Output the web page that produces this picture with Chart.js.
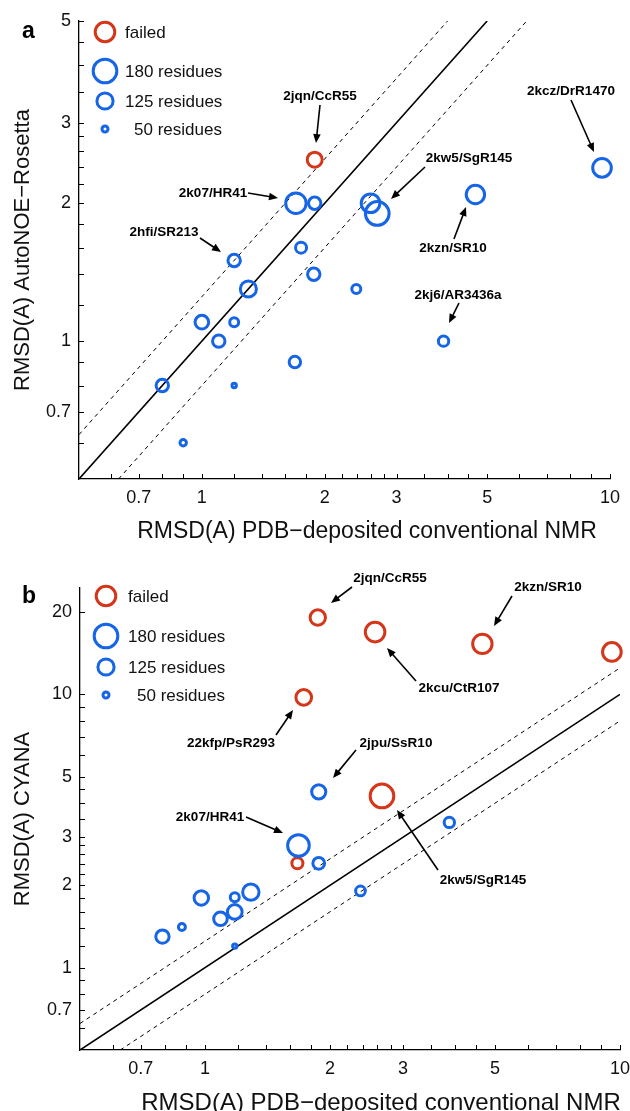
<!DOCTYPE html>
<html>
<head>
<meta charset="utf-8">
<script src="https://cdn.jsdelivr.net/npm/chart.js@4.4.1/dist/chart.umd.min.js"></script>
<style>
  html, body { margin: 0; padding: 0; background: #fff; }
  #wrap { position: relative; width: 630px; height: 1111px; overflow: hidden; }
  canvas { position: absolute; left: 0; }
</style>
</head>
<body>
<div id="wrap">
  <canvas id="chartA" width="630" height="555" style="top:0"></canvas>
  <canvas id="chartB" width="630" height="556" style="top:555px"></canvas>
</div>
<script>
// panel a: AutoNOE-Rosetta vs PDB-deposited RMSD
const aX      = [1.89, 1.70, 1.89, 1.75, 1.20, 1.30, 1.88, 2.39, 1.00, 1.20, 1.10, 3.91, 1.69, 0.80, 1.20, 0.90, 2.59, 2.69, 4.68, 9.56];
const aY      = [2.49, 2.00, 2.00, 1.60, 1.50, 1.30, 1.40, 1.30, 1.10, 1.10, 1.00, 1.00, 0.90, 0.80, 0.80, 0.60, 2.00, 1.90, 2.09, 2.39];
const aRes    = [116, 156, 97, 87, 97, 124, 97, 72, 106, 72, 97, 82, 90, 97, 38, 53, 143, 180, 141, 143];
const aFailed = [1, 0, 0, 0, 0, 0, 0, 0, 0, 0, 0, 0, 0, 0, 0, 0, 0, 0, 0, 0];

// panel b: CYANA vs PDB-deposited RMSD
const bX      = [1.87, 2.57, 4.66, 9.56, 1.73, 2.67, 1.88, 3.88, 1.68, 1.67, 1.88, 2.37, 1.29, 1.18, 0.98, 1.18, 1.09, 0.88, 0.79, 1.18];
const bY      = [19.1, 16.9, 15.3, 14.3, 9.75, 4.25, 4.40, 3.40, 2.80, 2.41, 2.41, 1.91, 1.89, 1.81, 1.80, 1.60, 1.51, 1.41, 1.30, 1.20];
const bRes    = [119, 150, 148, 143, 121, 180, 110, 82, 165, 87, 92, 77, 126, 72, 112, 114, 106, 57, 104, 38];
const bFailed = [1, 1, 1, 1, 1, 1, 0, 0, 0, 1, 0, 0, 0, 0, 0, 0, 0, 0, 0, 0];

// reference lines (identity and +/-25%)
const aSolid = [{x: 0.5, y: 0.5}, {x: 5, y: 5}];
const aUpper = [{x: 0.5, y: 0.625}, {x: 4, y: 5}];
const aLower = [{x: 0.625, y: 0.5}, {x: 6.25, y: 5}];
const bSolid = [{x: 0.5, y: 0.5}, {x: 10, y: 10}];
const bUpper = [{x: 0.5, y: 0.625}, {x: 10, y: 12.5}];
const bLower = [{x: 0.625, y: 0.5}, {x: 10, y: 8}];

// ticks
const xTicks  = [0.6, 0.7, 0.8, 0.9, 1, 1.2, 1.4, 1.6, 1.8, 2, 2.2, 2.4, 2.6, 2.8, 3, 3.5, 4, 4.5, 5, 6, 7, 8, 9, 10];
const xLabels = [0.7, 1, 2, 3, 5, 10];
const aYTicks  = [0.6, 0.7, 0.8, 0.9, 1, 1.2, 1.4, 1.6, 1.8, 2, 2.2, 2.4, 2.6, 2.8, 3, 3.5, 4, 4.5, 5];
const aYLabels = [0.7, 1, 2, 3, 5];
const bYTicks  = [0.6, 0.7, 0.8, 0.9, 1, 1.2, 1.4, 1.6, 1.8, 2, 2.2, 2.4, 2.6, 2.8, 3, 3.5, 4, 4.5, 5, 6, 7, 8, 9, 10, 20];
const bYLabels = [0.7, 1, 2, 3, 5, 10, 20];

// legend sizes (residues)
const legendItems = [
  { label: 'failed', res: 150, failed: true },
  { label: '180 residues', res: 180 },
  { label: '125 residues', res: 125 },
  { label: '50 residues', res: 50 }
];

const FONT = '"Liberation Sans", Arial, Helvetica, sans-serif';
const BLUE = '#1565e6';
const RED = '#d4361a';
const RING = 3;

function ringRadius(res) { return res * 0.068 + 1.1 - RING / 2; }

function pick(xs, ys, res, failed, want) {
  const out = [];
  xs.forEach((x, i) => { if (failed[i] === want) out.push({ x: x, y: ys[i], res: res[i] }); });
  return out;
}

function ringSet(data, color) {
  return {
    type: 'scatter',
    data: data,
    clip: false,
    borderColor: color,
    backgroundColor: 'rgba(0,0,0,0)',
    pointBorderWidth: RING,
    pointHoverBorderWidth: RING,
    pointRadius: c => ringRadius(c.raw.res),
    pointHoverRadius: c => ringRadius(c.raw.res)
  };
}

function lineSet(data, width, dash) {
  return {
    type: 'line',
    data: data,
    borderColor: '#000',
    borderWidth: width,
    borderDash: dash,
    pointRadius: 0,
    fill: false,
    tension: 0
  };
}

function logAxis(min, max, ticks, labels, isY, size) {
  return {
    type: 'logarithmic',
    position: isY ? 'left' : 'bottom',
    min: min,
    max: max,
    grid: { display: false, drawTicks: false },
    border: { display: true, color: '#000', width: 1.3 },
    ticks: {
      autoSkip: false,
      maxRotation: 0,
      color: '#111',
      padding: 8,
      font: { family: FONT, size: 18 },
      callback: v => labels.includes(v) ? String(v) : ''
    },
    afterBuildTicks: s => { s.ticks = ticks.map(v => ({ value: v })); },
    afterFit: s => {
      if (isY) s.width = size; else s.height = size;
      // let layout.padding alone decide the plot area
      s.paddingLeft = s.paddingRight = s.paddingTop = s.paddingBottom = 0;
    }
  };
}

function drawArrow(ctx, x1, y1, x2, y2) {
  const ang = Math.atan2(y2 - y1, x2 - x1);
  const hl = 9, hw = 3.8;
  const c = Math.cos(ang), s = Math.sin(ang);
  ctx.beginPath();
  ctx.moveTo(x1, y1);
  ctx.lineTo(x2 - c * hl * 0.7, y2 - s * hl * 0.7);
  ctx.lineWidth = 1.6;
  ctx.stroke();
  ctx.beginPath();
  ctx.moveTo(x2, y2);
  ctx.lineTo(x2 - c * hl + s * hw, y2 - s * hl - c * hw);
  ctx.lineTo(x2 - c * hl - s * hw, y2 - s * hl + c * hw);
  ctx.closePath();
  ctx.fill();
}

// axis ticks (inward), titles, legend and labels
function overlay(o) {
  return {
    id: 'overlay',
    afterDraw(chart) {
      const { ctx, chartArea: ca } = chart;
      const x = chart.scales.x, y = chart.scales.y;
      ctx.save();
      ctx.strokeStyle = '#000';
      ctx.fillStyle = '#000';
      ctx.lineWidth = 1;
      o.xTicks.forEach(v => {
        const px = Math.round(x.getPixelForValue(v)) + 0.5;
        ctx.beginPath(); ctx.moveTo(px, ca.bottom); ctx.lineTo(px, ca.bottom - 5); ctx.stroke();
      });
      o.yTicks.forEach(v => {
        const py = Math.round(y.getPixelForValue(v)) + 0.5;
        ctx.beginPath(); ctx.moveTo(ca.left, py); ctx.lineTo(ca.left + 5, py); ctx.stroke();
      });

      // axis titles
      ctx.fillStyle = '#111';
      ctx.textBaseline = 'alphabetic';
      ctx.textAlign = 'center';
      ctx.font = o.xTitleSize + 'px ' + FONT;
      ctx.fillText(o.xTitle, o.xTitleAt[0], o.xTitleAt[1]);
      ctx.font = o.yTitleSize + 'px ' + FONT;
      ctx.save();
      ctx.translate(o.yTitleX, (ca.top + ca.bottom) / 2);
      ctx.rotate(-Math.PI / 2);
      ctx.fillText(o.yTitle, 0, 0);
      ctx.restore();

      // panel letter
      ctx.fillStyle = '#000';
      ctx.textAlign = 'left';
      ctx.font = 'bold 23px ' + FONT;
      ctx.fillText(o.letter, 22, o.letterY);

      // legend
      ctx.font = '17px ' + FONT;
      ctx.textBaseline = 'middle';
      legendItems.forEach((it, i) => {
        ctx.beginPath();
        ctx.lineWidth = RING;
        ctx.strokeStyle = it.failed ? RED : BLUE;
        ctx.arc(o.legendX, o.legendY[i], ringRadius(it.res), 0, Math.PI * 2);
        ctx.stroke();
        ctx.fillStyle = '#111';
        ctx.fillText(it.label, o.legendTextX + (i === 3 ? 9 : 0), o.legendY[i] + 1);
      });

      // point labels with arrows
      ctx.strokeStyle = '#000';
      ctx.fillStyle = '#000';
      ctx.font = 'bold 13.5px ' + FONT;
      ctx.textAlign = 'center';
      o.notes.forEach(n => {
        ctx.fillText(n.text, n.at[0], n.at[1]);
        drawArrow(ctx, n.from[0], n.from[1], n.to[0], n.to[1]);
      });
      ctx.restore();
    }
  };
}

function makeChart(id, cfg) {
  return new Chart(document.getElementById(id), {
    data: {
      datasets: [
        ringSet(pick(cfg.xs, cfg.ys, cfg.res, cfg.failed, 0), BLUE),
        ringSet(pick(cfg.xs, cfg.ys, cfg.res, cfg.failed, 1), RED),
        lineSet(cfg.solid, 1.6, []),
        lineSet(cfg.upper, 1, [4, 4]),
        lineSet(cfg.lower, 1, [4, 4])
      ]
    },
    options: {
      responsive: false,
      animation: false,
      events: [],
      layout: { padding: cfg.padding, autoPadding: false },
      plugins: { legend: { display: false }, tooltip: { enabled: false } },
      scales: {
        x: logAxis(0.5, 10, xTicks, xLabels, false, 45),
        y: logAxis(0.5, cfg.yMax, cfg.yTicks, cfg.yLabels, true, cfg.yWidth)
      }
    },
    plugins: [overlay(cfg.overlay)]
  });
}

makeChart('chartA', {
  xs: aX, ys: aY, res: aRes, failed: aFailed,
  solid: aSolid, upper: aUpper, lower: aLower,
  yMax: 5, yTicks: aYTicks, yLabels: aYLabels, yWidth: 79,
  padding: { left: 0, right: 20, top: 21, bottom: 31 },
  overlay: {
    xTicks: xTicks, yTicks: aYTicks,
    xTitle: 'RMSD(A) PDB\u2212deposited conventional NMR', xTitleAt: [367, 538], xTitleSize: 23,
    yTitle: 'RMSD(A) AutoNOE\u2212Rosetta', yTitleX: 29, yTitleSize: 22,
    letter: 'a', letterY: 38,
    legendX: 105, legendTextX: 125, legendY: [32, 71, 101, 129],
    notes: [
      { text: '2jqn/CcR55', at: [320, 96], from: [320, 105], to: [316, 143] },
      { text: '2k07/HR41', at: [213, 193], from: [248, 193], to: [278, 198] },
      { text: '2hfi/SR213', at: [164, 232], from: [200, 238], to: [221, 252] },
      { text: '2kw5/SgR145', at: [469, 158], from: [425, 167], to: [391, 199] },
      { text: '2kzn/SR10', at: [453, 248], from: [454, 239], to: [466, 207] },
      { text: '2kcz/DrR1470', at: [571, 91], from: [571, 100], to: [594, 152] },
      { text: '2kj6/AR3436a', at: [458, 295], from: [459, 303], to: [449, 323] }
    ]
  }
});

makeChart('chartB', {
  xs: bX, ys: bY, res: bRes, failed: bFailed,
  solid: bSolid, upper: bUpper, lower: bLower,
  yMax: 24.5, yTicks: bYTicks, yLabels: bYLabels, yWidth: 80,
  padding: { left: 0, right: 10, top: 33, bottom: 16 },
  overlay: {
    xTicks: xTicks, yTicks: bYTicks,
    xTitle: 'RMSD(A) PDB\u2212deposited conventional NMR', xTitleAt: [381, 555], xTitleSize: 24,
    yTitle: 'RMSD(A) CYANA', yTitleX: 29, yTitleSize: 22,
    letter: 'b', letterY: 48,
    legendX: 106, legendTextX: 128, legendY: [41, 81, 112, 140],
    notes: [
      { text: '2jqn/CcR55', at: [390, 23], from: [352, 32], to: [331, 48] },
      { text: '2kzn/SR10', at: [548, 32], from: [512, 41], to: [494, 71] },
      { text: '2kcu/CtR107', at: [459, 133], from: [416, 126], to: [387, 93] },
      { text: '22kfp/PsR293', at: [231, 188], from: [276, 180], to: [293, 155] },
      { text: '2jpu/SsR10', at: [396, 188], from: [356, 195], to: [333, 223] },
      { text: '2k07/HR41', at: [210, 262], from: [246, 262], to: [283, 278] },
      { text: '2kw5/SgR145', at: [483, 325], from: [438, 315], to: [397, 255] }
    ]
  }
});
</script>
</body>
</html>
